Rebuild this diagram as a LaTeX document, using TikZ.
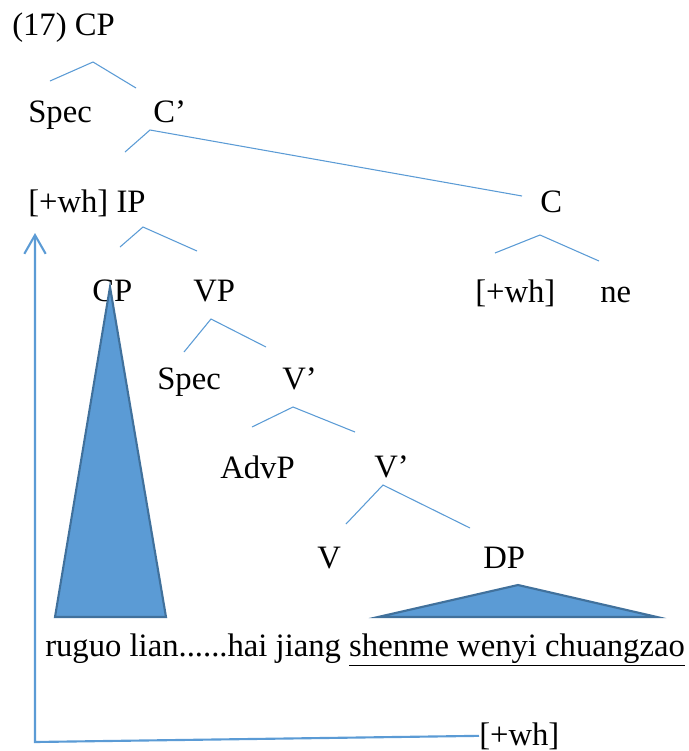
\documentclass[tikz,border=0pt]{standalone}
\usepackage{fontspec}
\setmainfont{Liberation Serif}
\usetikzlibrary{arrows.meta}
\definecolor{branchblue}{RGB}{91,155,213}
\definecolor{edgeblue}{RGB}{65,113,156}
\tikzset{
  cat/.style={anchor=base west,inner sep=0pt,font=\fontsize{24.5}{28}\selectfont},
  branch/.style={draw=branchblue,line width=0.8pt},
  roof/.style={fill=branchblue,draw=edgeblue,line width=1.6pt},
  move/.style={draw=branchblue,line width=1.6pt,-{Straight Barb[length=14pt,width=16pt]}},
}

\begin{document}
\begin{tikzpicture}[x=0.75pt,y=-0.75pt]
  \useasboundingbox (0,0) rectangle (689,751);
  % categories, placed by their baselines
  \node[cat] (cp) at (12,35) {(17) CP};
  \node[cat] (spec) at (28,122) {Spec};
  \node[cat] (cbar) at (153,122) {C’};
  \node[cat] (wh) at (28,212) {[+wh] IP};
  \node[cat] (c) at (540,212) {C};
  \node[cat] (cwh) at (475,302) {[+wh]};
  \node[cat] (ne) at (600,302) {ne};
  \node[cat] (cpsub) at (92,301) {CP};
  \node[cat] (vp) at (193,301) {VP};
  \node[cat] (specv) at (157,389) {Spec};
  \node[cat] (vbar) at (282,389) {V’};
  \node[cat] (advp) at (220,478) {AdvP};
  \node[cat] (vbarb) at (374,477) {V’};
  \node[cat] (v) at (317,568) {V};
  \node[cat] (dp) at (483,568) {DP};
  \node[cat] (sent) at (45,656) {ruguo lian......hai jiang \underline{shenme wenyi chuangzao}};
  \node[cat] (whlow) at (479,745) {[+wh]};

  % branch ends: apex, left, right
  \coordinate (cp-a) at (93,62);     \coordinate (cp-l) at (50,81);     \coordinate (cp-r) at (136,88);
  \coordinate (cbar-a) at (150,130); \coordinate (cbar-l) at (125,152); \coordinate (cbar-r) at (522,196);
  \coordinate (ip-a) at (143,227);   \coordinate (ip-l) at (120,247);   \coordinate (ip-r) at (197,251);
  \coordinate (c-a) at (540,235);    \coordinate (c-l) at (495,253);    \coordinate (c-r) at (599,261);
  \coordinate (vp-a) at (211,319);   \coordinate (vp-l) at (184,352);   \coordinate (vp-r) at (266,347);
  \coordinate (vbar-a) at (293,407); \coordinate (vbar-l) at (252,427); \coordinate (vbar-r) at (355,432);
  \coordinate (vbarb-a) at (383,485);\coordinate (vbarb-l) at (346,524);\coordinate (vbarb-r) at (470,528);
  \foreach \p in {cp,cbar,ip,c,vp,vbar,vbarb}
    \draw[branch] (\p-l) -- (\p-a) -- (\p-r);

  % roofs
  \coordinate (cpsub-a) at (110,287); \coordinate (cpsub-l) at (55,617); \coordinate (cpsub-r) at (166,617);
  \coordinate (dp-a) at (518,585);    \coordinate (dp-l) at (378,617);   \coordinate (dp-r) at (657,617);
  \draw[roof] (cpsub-a) -- (cpsub-r) -- (cpsub-l) -- cycle;
  \draw[roof] (dp-a) -- (dp-r) -- (dp-l) -- cycle;

  % movement of the wh feature
  \coordinate (trace) at (35,742);
  \coordinate (land) at (35,233);
  \draw[move] (whlow.west) -- (trace) -- (land);
\end{tikzpicture}
\end{document}
